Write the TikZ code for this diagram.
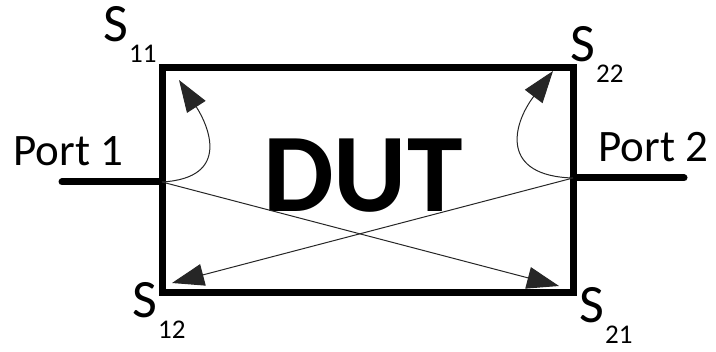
\documentclass[tikz,border=0pt]{standalone}
\usepackage{fontspec}
\setmainfont{Carlito}
\usetikzlibrary{arrows.meta}

% scattering parameter label: S with a dropped index
\newcommand{\spar}[1]{S\kern0.5pt\raisebox{-10.5pt}{\fontsize{13.5}{15}\selectfont #1}}

\begin{document}
\begin{tikzpicture}[
  x=0.5pt, y=-0.5pt,
  >={Triangle[length=16pt, width=11pt]},
  dutbox/.style={draw=black, line width=3.5pt, minimum width=205.5pt,
    minimum height=112pt, inner sep=0pt},
  portline/.style={line width=3.5pt, line cap=round},
  wave/.style={->, line width=0.5pt, black!85},
  portlabel/.style={font=\fontsize{22.5}{26}\selectfont, anchor=base west,
    inner sep=0pt},
  slabel/.style={font=\fontsize{27}{30}\selectfont, anchor=base west,
    inner sep=0pt},
]

% Canvas
\useasboundingbox (0,0) rectangle (716,352);

% =============================================
% Device under test
% =============================================
\node[dutbox] (dut) at (367.5,180) {};
\node[font=\fontsize{56}{60}\selectfont\bfseries, inner sep=0pt]
  (dutname) at (363,176) {DUT};

% =============================================
% Ports
% =============================================
\coordinate (p1) at (162,182);
\coordinate (p1end) at (62,182);
\coordinate (p2) at (573,178);
\coordinate (p2end) at (684,178);
\draw[portline] (p1end) -- (p1);
\draw[portline] (p2) -- (p2end);

\node[portlabel] (port1) at (13,166) {Port 1};
\node[portlabel] (port2) at (598,162) {Port 2};

% =============================================
% Wave paths
% =============================================
\coordinate (t11) at (179,80);
\coordinate (t22) at (553,71);
\coordinate (t21) at (559,286);
\coordinate (t12) at (172,283);

% reflections
\draw[wave] (p1) .. controls (232,178) and (208,125) .. (t11);
\draw[wave] (p2) .. controls (500,176) and (512,125) .. (t22);

% transmissions
\draw[wave] (p1) -- (t21);
\draw[wave] (p2) -- (t12);

% =============================================
% S-parameter labels
% =============================================
\node[slabel] (s11) at (103,42) {\spar{11}};
\node[slabel] (s22) at (570,62) {\spar{22}};
\node[slabel] (s12) at (132,317) {\spar{12}};
\node[slabel] (s21) at (579,322) {\spar{21}};

\end{tikzpicture}
\end{document}
